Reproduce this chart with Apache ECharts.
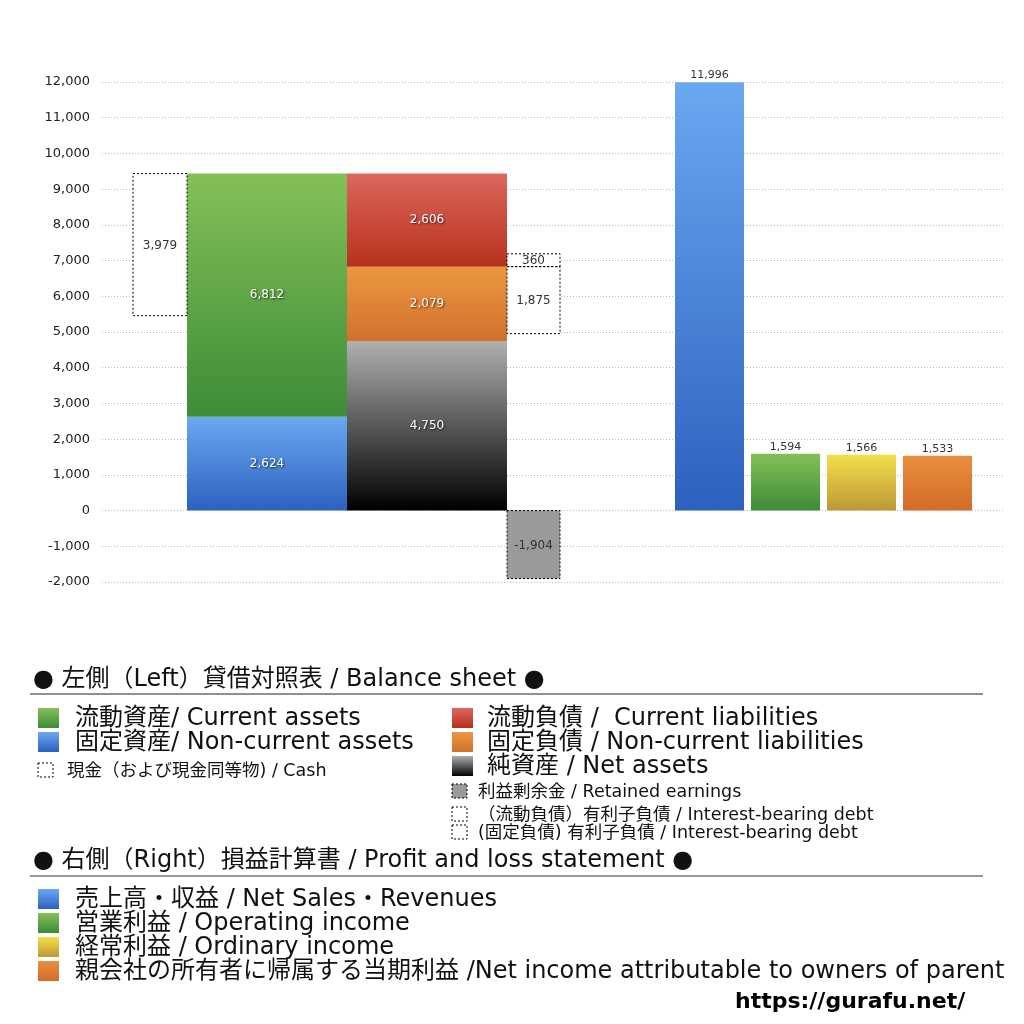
<!DOCTYPE html>
<html>
<head>
<meta charset="utf-8">
<script src="https://cdn.jsdelivr.net/npm/echarts@6/dist/echarts.min.js"></script>
<style>
  html, body { margin: 0; padding: 0; background: #fff; }
  #chart { width: 1024px; height: 1024px; }
</style>
</head>
<body>
<div id="chart"></div>
<script>
// ---- data ----
var assetNames = ['固定資産', '流動資産'];
var assetValues = [2624, 6812];
var liabNames = ['純資産', '固定負債', '流動負債'];
var liabValues = [4750, 2079, 2606];
var cashValues = [3979];
var debtNames = ['有利子負債(流動)', '有利子負債(固定)'];
var debtValues = [360, 1875];
var retainedValues = [-1904];
var plNames = ['売上高・収益', '営業利益', '経常利益', '当期利益'];
var plValues = [11996, 1594, 1566, 1533];
var yTicks = { min: -2000, max: 12000, step: 1000 };

var FONT = '"DejaVu Sans", "Noto Sans CJK JP", sans-serif';

function grad(top, bottom) {
    return new echarts.graphic.LinearGradient(0, 0, 0, 1, [
        { offset: 0, color: top },
        { offset: 1, color: bottom }
    ]);
}

var FILLS = {
    blue: ['#6aa8f1', '#2c61bf'],
    green: ['#84c057', '#3d8c38'],
    red: ['#dc675c', '#b7311d'],
    orange: ['#eb9841', '#d2702c'],
    black: ['#b0b0b0', '#000000'],
    yellow: ['#f5df4b', '#bd9834'],
    orange2: ['#e88e3d', '#d36c29']
};

// columns along the hidden x axis (layout only)
var COLS = {
    cash: [31, 85],
    assets: [85, 245],
    liab: [245, 405],
    debt: [405, 458],
    pl: [[573, 642], [649, 718], [725, 794], [801, 870]]
};

var rects = [];
function addRect(col, y0, y1, val, fill, kind, labelPos) {
    rects.push({ value: [col[0], col[1], y0, y1, val], fill: fill, kind: kind, labelPos: labelPos });
}

// left: assets stack
var base = 0;
addRect(COLS.assets, base, base + assetValues[0], assetValues[0], 'blue', 'solid', 'in');
base += assetValues[0];
addRect(COLS.assets, base, base + assetValues[1], assetValues[1], 'green', 'solid', 'in');
var totalAssets = base + assetValues[1];

// cash box hangs from the top of total assets
addRect(COLS.cash, totalAssets - cashValues[0], totalAssets, cashValues[0], null, 'dash', 'box');

// liabilities / net assets stack
base = 0;
var liabFill = ['black', 'orange', 'red'];
var liabTops = [];
liabValues.forEach(function (v, i) {
    addRect(COLS.liab, base, base + v, v, liabFill[i], 'solid', 'in');
    base += v;
    liabTops.push(base);
});

// interest-bearing debt boxes around the current/non-current boundary
var boundary = liabTops[1];
addRect(COLS.debt, boundary, boundary + debtValues[0], debtValues[0], null, 'dash', 'box');
addRect(COLS.debt, boundary - debtValues[1], boundary, debtValues[1], null, 'dash', 'box');

// retained earnings
addRect(COLS.debt, retainedValues[0], 0, retainedValues[0], 'gray', 'dashfill', 'box');

// right: P/L
var plFill = ['blue', 'green', 'yellow', 'orange2'];
plValues.forEach(function (v, i) {
    addRect(COLS.pl[i], 0, v, v, plFill[i], 'solid', 'top');
});

function fmt(v) {
    return v.toLocaleString('en-US');
}

function renderItem(params, api) {
    var item = rects[params.dataIndex];
    var v = item.value;
    var p0 = api.coord([v[0], v[3]]);
    var p1 = api.coord([v[1], v[2]]);
    var x = p0[0], y = p0[1], w = p1[0] - p0[0], h = p1[1] - p0[1];
    var style;
    if (item.kind === 'solid') {
        var f = FILLS[item.fill];
        style = { fill: grad(f[0], f[1]) };
    } else if (item.kind === 'dash') {
        style = { fill: '#fff', stroke: '#000', lineWidth: 1, lineDash: [2, 2] };
    } else {
        style = { fill: '#9a9a9a', stroke: '#000', lineWidth: 1, lineDash: [2, 2] };
    }
    var children = [{ type: 'rect', shape: { x: x, y: y, width: w, height: h }, style: style }];
    var txt = {
        type: 'text',
        style: {
            text: fmt(v[4]), x: x + w / 2, align: 'center', verticalAlign: 'middle',
            font: '12px ' + FONT, fill: '#333'
        }
    };
    if (item.labelPos === 'in') {
        txt.style.y = y + h / 2;
        txt.style.fill = '#fff';
        txt.style.textShadowColor = 'rgba(0,0,0,0.7)';
        txt.style.textShadowBlur = 2;
        txt.style.textShadowOffsetX = 1;
        txt.style.textShadowOffsetY = 1;
    } else if (item.labelPos === 'top') {
        txt.style.y = y - 7;
        txt.style.font = '11px ' + FONT;
    } else {
        txt.style.y = y + h / 2 + 1;
    }
    children.push(txt);
    return { type: 'group', children: children };
}

// ---- legend built as graphics ----
var legendLeft = [
    { text: '流動資産/ Current assets', fill: 'green', big: true },
    { text: '固定資産/ Non-current assets', fill: 'blue', big: true },
    { text: '現金（および現金同等物) / Cash', fill: 'dash', big: false }
];
var legendRight = [
    { text: '流動負債 /  Current liabilities', fill: 'red', big: true },
    { text: '固定負債 / Non-current liabilities', fill: 'orange', big: true },
    { text: '純資産 / Net assets', fill: 'black', big: true },
    { text: '利益剰余金 / Retained earnings', fill: 'gray', big: false },
    { text: '（流動負債）有利子負債 / Interest-bearing debt', fill: 'dash', big: false },
    { text: '(固定負債) 有利子負債 / Interest-bearing debt', fill: 'dash', big: false }
];
var legendPL = [
    { text: '売上高・収益 / Net Sales・Revenues', fill: 'blue' },
    { text: '営業利益 / Operating income', fill: 'green' },
    { text: '経常利益 / Ordinary income', fill: 'yellow' },
    { text: '親会社の所有者に帰属する当期利益 /Net income attributable to owners of parent', fill: 'orange2' }
];

var graphics = [];
function legendRow(item, sx, tx, cy) {
    if (item.big === false) {
        var st = item.fill === 'gray'
            ? { fill: '#9a9a9a', stroke: '#000', lineWidth: 1, lineDash: [2, 2] }
            : { fill: '#fff', stroke: '#000', lineWidth: 1, lineDash: [2, 2] };
        graphics.push({ type: 'rect', shape: { x: sx, y: cy - 7, width: 15, height: 14 }, style: st });
        graphics.push({ type: 'text', style: { text: item.text, x: tx, y: cy + 1, verticalAlign: 'middle', font: '17.5px ' + FONT, fill: '#111' } });
    } else {
        var f = FILLS[item.fill];
        graphics.push({ type: 'rect', shape: { x: sx, y: cy - 10, width: 21, height: 20 }, style: { fill: grad(f[0], f[1]) } });
        graphics.push({ type: 'text', style: { text: item.text, x: tx, y: cy + 1, verticalAlign: 'middle', font: '24px ' + FONT, fill: '#111' } });
    }
}

graphics.push({ type: 'text', style: { text: '● 左側（Left）貸借対照表 / Balance sheet ●', x: 33, y: 680, verticalAlign: 'middle', font: '24px ' + FONT, fill: '#111' } });
graphics.push({ type: 'line', shape: { x1: 30, y1: 694, x2: 983, y2: 694 }, style: { stroke: '#222', lineWidth: 1 } });
var leftY = [718, 742, 770];
legendLeft.forEach(function (it, i) { legendRow(it, 38, it.big ? 75 : 67, leftY[i]); });
var rightY = [718, 742, 766, 791, 814, 832];
legendRight.forEach(function (it, i) { legendRow(it, 452, it.big ? 487 : 478, rightY[i]); });

graphics.push({ type: 'text', style: { text: '● 右側（Right）損益計算書 / Profit and loss statement ●', x: 33, y: 861, verticalAlign: 'middle', font: '24px ' + FONT, fill: '#111' } });
graphics.push({ type: 'line', shape: { x1: 30, y1: 876, x2: 983, y2: 876 }, style: { stroke: '#777', lineWidth: 1.5 } });
var plY = [899, 923, 947, 971];
legendPL.forEach(function (it, i) { legendRow(it, 38, 75, plY[i]); });

graphics.push({ type: 'text', style: { text: 'https://gurafu.net/', x: 735, y: 1002, verticalAlign: 'middle', font: 'bold 22px "DejaVu Sans", sans-serif', fill: '#000' } });

var chart = echarts.init(document.getElementById('chart'));
var option = {
    animation: false,
    backgroundColor: '#fff',
    grid: { left: 102, right: 19, top: 82, bottom: 442 },
    xAxis: { type: 'value', min: 0, max: 903, show: false },
    yAxis: {
        type: 'value',
        min: yTicks.min,
        max: yTicks.max,
        interval: yTicks.step,
        axisLine: { show: false },
        axisTick: { show: false },
        axisLabel: { formatter: fmt, color: '#222', fontSize: 13, fontFamily: FONT, margin: 12 },
        splitLine: { lineStyle: { color: '#bbb', type: [1, 2] } }
    },
    series: [{
        type: 'custom',
        renderItem: renderItem,
        data: rects.map(function (r) { return r.value; }),
        encode: { x: [0, 1], y: [2, 3] },
        clip: false
    }],
    graphic: graphics
};
chart.setOption(option);
</script>
</body>
</html>
